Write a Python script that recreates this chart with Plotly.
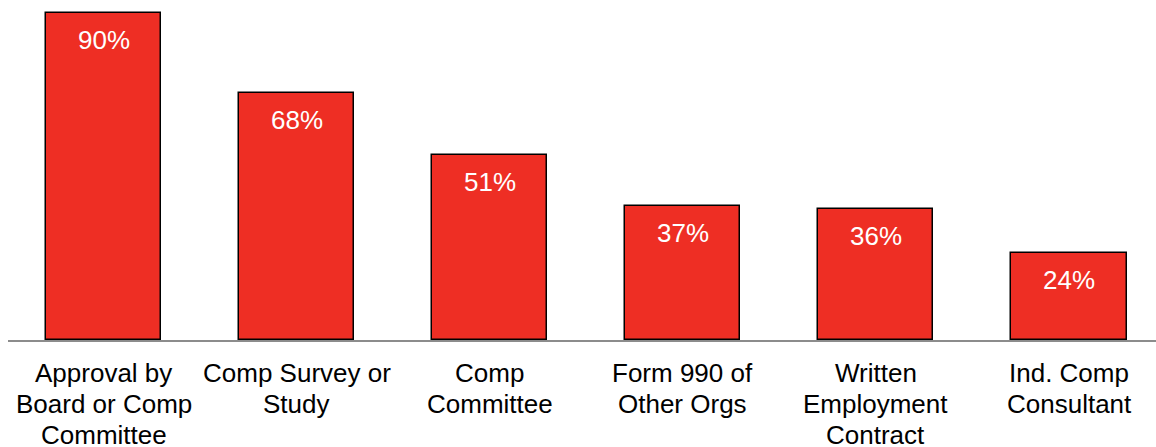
import plotly.graph_objects as go

categories = [
    "Approval by<br>Board or Comp<br>Committee",
    "Comp Survey or<br>Study",
    "Comp<br>Committee",
    "Form 990 of<br>Other Orgs",
    "Written<br>Employment<br>Contract",
    "Ind. Comp<br>Consultant",
]
values = [90, 68, 51, 37, 36, 24]
labels = [f"{v}%" for v in values]

FONT = "Liberation Sans, Arial, sans-serif"

fig = go.Figure()
fig.add_trace(go.Bar(
    x=list(range(len(categories))),
    y=values,
    width=0.596,
    marker=dict(color="#EE2E24", line=dict(color="#000000", width=1.5)),
    hoverinfo="skip",
))

for i, (v, t) in enumerate(zip(values, labels)):
    fig.add_annotation(
        x=i, y=v, text=t, showarrow=False, yanchor="top", yshift=-10,
        font=dict(family=FONT, size=26, color="white"),
    )

# category labels, one annotation per line for PowerPoint-like line spacing
for i, cat in enumerate(categories):
    for k, line in enumerate(cat.split("<br>")):
        fig.add_annotation(
            x=i, y=0, text=line, showarrow=False, yanchor="middle",
            yshift=-(33 + 31 * k),
            font=dict(family=FONT, size=26, color="#000000"),
        )

fig.update_layout(
    width=1156, height=447,
    margin=dict(l=8, r=0, t=0, b=107),
    paper_bgcolor="white", plot_bgcolor="white",
    showlegend=False,
    bargap=0,
    xaxis=dict(
        range=[-0.4946, 5.4505],
        showticklabels=False,
        showline=True, linecolor="#8C8C8C", linewidth=2,
        showgrid=False, zeroline=False, ticks="",
    ),
    yaxis=dict(
        range=[0, 93.6],
        visible=False,
        showgrid=False, zeroline=False,
    ),
)

fig.write_html("out.html")
